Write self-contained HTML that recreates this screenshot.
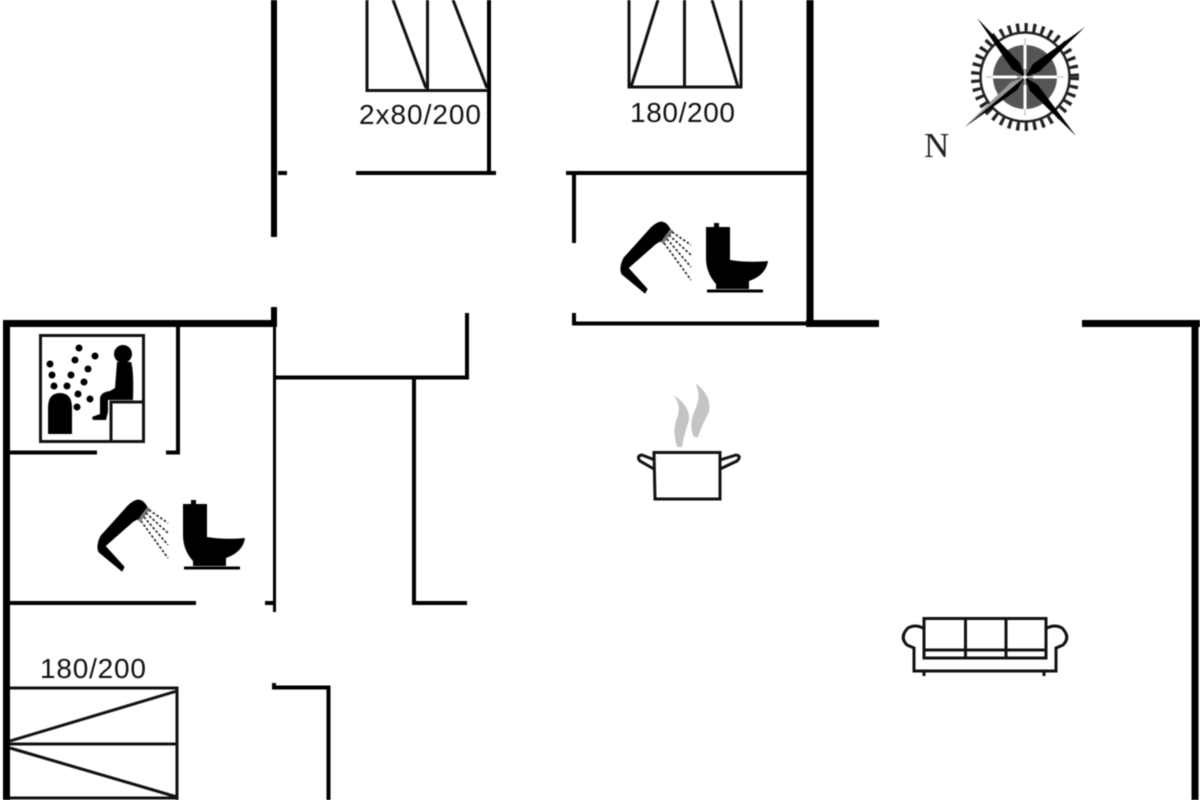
<!DOCTYPE html>
<html>
<head>
<meta charset="utf-8">
<style>
html,body{margin:0;padding:0;background:#fff}
svg{display:block;filter:blur(.55px)}
text{font-family:"Liberation Sans",sans-serif;font-size:28px;fill:#111}
</style>
</head>
<body>
<svg width="1200" height="800" viewBox="0 0 1200 800" xmlns="http://www.w3.org/2000/svg">
<defs>
<g id="shower">
<path d="M138 500 Q143 500 147 507 L138 519 Q134 520 130 524 L105 546 L124 567 L122 571 L99 552 Q96 546 101 536 L128 506 Q133 501 138 500Z" fill="#000" stroke="#000" stroke-width="1" stroke-linejoin="round"/>
<path d="M149 508 L139 521" stroke="#777" stroke-width="3" fill="none"/>
<g stroke="#222" stroke-width="1.700" stroke-dasharray="2.500 2" fill="none">
<path d="M149 510 L168 523"/><path d="M146 513 L168 533"/><path d="M144 517 L168 545"/><path d="M141 521 L168 558"/>
</g>
</g>
<g id="toilet">
<path d="M183 504 H191 V500 H196 V504 H207 V537 Q225 540 245 538 Q243 552 226 558 V566 H193 V561 Q183 550 183 535Z" fill="#000"/>
<path d="M184 568 H240" stroke="#000" stroke-width="3"/>
</g>
</defs>
<rect width="1200" height="800" fill="#fff"/>

<!-- thick walls -->
<g fill="none" stroke="#000" stroke-width="7">
<path d="M274 0 V237" stroke-width="6"/>
<path d="M274 307 V326" stroke-width="6"/>
<path d="M810 0 V326"/>
<path d="M806 323.500 H879"/>
<path d="M1082 323.500 H1200"/>
<path d="M1195 323 V800"/>
<path d="M3 323.500 H277"/>
<path d="M6.500 320 V800"/>
</g>

<!-- thin walls -->
<g fill="none" stroke="#000" stroke-width="4">
<path d="M278 173 H287"/>
<path d="M356 173 H496"/>
<path d="M566 173 H807"/>
<path d="M489 0 V173"/>
<path d="M574 173 V243"/>
<path d="M574 313 V323.500 H807"/>
<path d="M178 326 V452.500 H166"/>
<path d="M10 452.500 H97"/>
<path d="M10 603 H196"/>
<path d="M265 603 H274"/>
<path d="M274.500 325 V612" stroke-width="3"/>
<path d="M467 313 V377.500 H276"/>
<path d="M414 377 V603 H467"/>
<path d="M274 683 V687.500 H328.500 V800"/>
</g>

<!-- beds -->
<g fill="none" stroke="#111" stroke-width="3">
<path d="M367 0 V90.500 H488"/>
<path d="M427.500 0 V90"/>
<path d="M393 0 L426 88"/>
<path d="M453 0 L487 88"/>
<path d="M629 0 V87 H741 V0"/>
<path d="M684.500 0 V87"/>
<path d="M658 0 L631 87"/>
<path d="M712 0 L738 87"/>
<path d="M10 688 H177 V800"/>
<path d="M10 744 H177"/>
<path d="M10 741 L177 691"/>
<path d="M10 748 L177 797"/>
<path d="M10 798 H177"/>
</g>

<!-- bed labels -->
<text x="359" y="124" textLength="122">2x80/200</text>
<text x="630" y="122" textLength="105">180/200</text>
<text x="40" y="678" textLength="106">180/200</text>

<!-- compass -->
<text x="924" y="157" style="font-family:'Liberation Serif',serif;font-size:35px;fill:#222">N</text>
<g>
<circle cx="1025" cy="77" r="49.500" fill="none" stroke="#222" stroke-width="9" stroke-dasharray="3.200 5.100"/>
<circle cx="1025" cy="77" r="44.500" fill="none" stroke="#222" stroke-width="2.500"/>
<circle cx="1025" cy="77" r="40" fill="#fff"/>
<circle cx="1025" cy="77" r="32" fill="#555"/>
<path d="M1025 38 V116 M986 77 H1064" stroke="#ccc" stroke-width="1.500"/>
<path d="M1025 45 V69 M1025 85 V109 M993 77 H1017 M1033 77 H1057" stroke="#fff" stroke-width="3"/>
<polygon points="1025,77 1033,64 1085,27 1039,72" fill="#000"/>
<polygon points="1025,77 1011,82 965,127 1017,90" fill="#000"/>
<polygon points="1025,77 1011,82 965,127" fill="#999"/>
<polygon points="1025,77 1020,63 977,18 1012,69" fill="#000"/>
<polygon points="1025,77 1038,85 1076,136 1030,91" fill="#000"/>
<circle cx="1025" cy="77" r="2" fill="#fff"/>
</g>

<!-- bathroom fixtures -->
<use href="#shower"/>
<use href="#toilet"/>
<use href="#shower" transform="translate(523,-278)"/>
<use href="#toilet" transform="translate(523,-277)"/>

<!-- sauna -->
<rect x="40.500" y="335.500" width="103" height="106" fill="none" stroke="#111" stroke-width="3"/>
<path d="M48 434 V408 Q48 393 60 393 Q72 393 72 408 V434Z" fill="#000"/>
<g fill="#000">
<circle cx="79" cy="348" r="3.500"/><circle cx="95" cy="356" r="3.500"/><circle cx="75" cy="360" r="3.500"/>
<circle cx="50" cy="364" r="3.500"/><circle cx="88" cy="369" r="3.500"/><circle cx="52" cy="375" r="3.500"/>
<circle cx="71" cy="375" r="3.500"/><circle cx="84" cy="382" r="3.500"/><circle cx="54" cy="386" r="3.500"/>
<circle cx="67" cy="386" r="3.500"/><circle cx="78" cy="394" r="3.500"/><circle cx="90" cy="399" r="3.500"/>
<circle cx="77" cy="407" r="3.500"/>
<circle cx="123" cy="354" r="9"/>
<path d="M117 362 H131 Q134 370 133 400 H108 V412 L106 420 H93 L92 417 L100 414 V398 Q101 392 110 391 L115 388 Z"/>
</g>
<path d="M111 442 V402 H143" fill="none" stroke="#111" stroke-width="3"/>

<!-- pot -->
<g fill="none" stroke="#111" stroke-width="3">
<path d="M654 452.500 H720 V499 H655 Z"/>
<path d="M654 469 L640 461 Q636 456 642 455 L655 460"/>
<path d="M720 469 L737 461 Q742 456 736 455 L720 460"/>
</g>
<path d="M673 395 Q690 405 689 420 Q684 435 682 447 L677 447 Q672 430 677 418 Q682 405 673 395Z" fill="#c4c4c4"/>
<path d="M695 383 Q712 395 709 412 Q702 425 698 437 L694 437 Q688 425 695 410 Q702 395 695 383Z" fill="#c4c4c4"/>

<!-- sofa -->
<g fill="none" stroke="#111" stroke-width="3">
<path d="M924 618.500 H1046 V658 H924 Z"/>
<path d="M965.500 618 V658"/>
<path d="M1006 618 V658"/>
<path d="M924 650 H1046"/>
<path d="M923 628 Q915 624 908 628 Q899 637 907 645 L914 648 V671 H1056 V648 L1063 645 Q1071 637 1062 628 Q1055 624 1047 628"/>
<path d="M924 671 V676 M1044 671 V676"/>
</g>
</svg>
</body>
</html>
